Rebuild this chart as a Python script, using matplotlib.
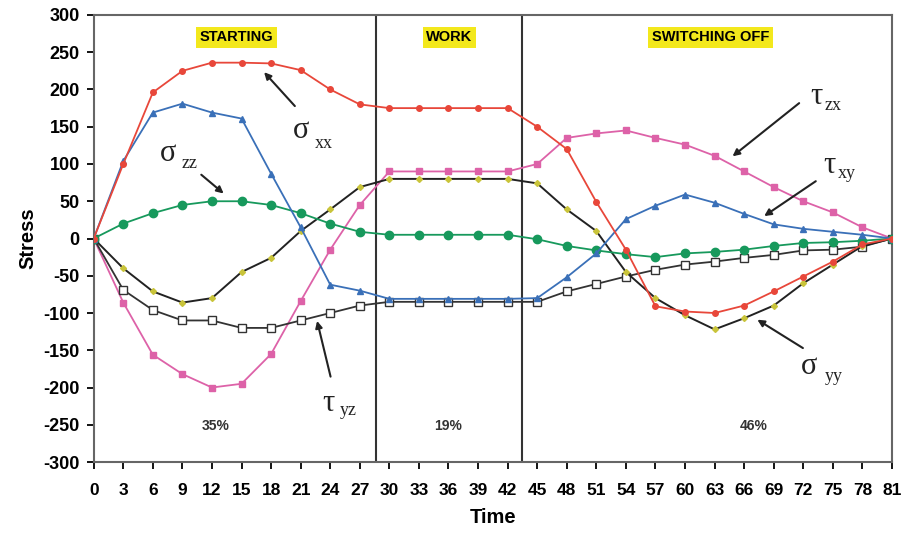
import numpy as np
import matplotlib
matplotlib.use('Agg')
import matplotlib.pyplot as plt

plt.rcParams['font.family'] = ['Liberation Sans', 'DejaVu Sans']
plt.rcParams['axes.unicode_minus'] = False

# ── data ──
time = list(range(0, 82, 3))

sigma_xx = [0, 100, 196, 225, 236, 236, 235, 226, 200, 180, 175, 175, 175, 175, 175,
            150, 120, 49, -15, -91, -98, -100, -90, -71, -51, -31, -8, 0]
tau_xy = [0, 104, 169, 181, 169, 161, 87, 15, -62, -70, -81, -81, -81, -81, -81,
          -80, -52, -20, 26, 44, 59, 48, 33, 19, 13, 9, 5, 0]
sigma_zz = [0, 20, 34, 45, 50, 50, 45, 34, 20, 9, 5, 5, 5, 5, 5,
            -1, -10, -16, -21, -25, -20, -18, -15, -10, -6, -5, -3, 0]
tau_zx = [0, -86, -156, -182, -200, -195, -155, -84, -15, 45, 90, 90, 90, 90, 90,
          100, 135, 141, 145, 135, 126, 111, 90, 69, 50, 35, 15, 0]
tau_yz = [0, -69, -96, -110, -110, -120, -120, -110, -100, -90, -85, -85, -85, -85, -85,
          -85, -71, -61, -51, -42, -35, -31, -26, -22, -16, -15, -11, 0]
sigma_yy = [0, -40, -71, -86, -80, -45, -26, 10, 39, 69, 80, 80, 80, 80, 80,
            74, 39, 10, -45, -80, -103, -122, -107, -90, -60, -35, -10, 0]

phase_bounds = [28.6, 43.5]
phase_names = ["STARTING", "WORK", "SWITCHING OFF"]
phase_name_x = [14.5, 36.1, 62.6]
phase_pcts = ["35%", "19%", "46%"]
phase_pct_x = [12.4, 36.0, 67.0]

# component labels: greek letter, subscript, letter pos, subscript pos, arrow tail, arrow head
comp_labels = [
    ("σ", "xx", (20.2, 135), (22.4, 121), (20.6, 175), (17.1, 226)),
    ("σ", "zz", (6.7, 104), (8.9, 94), (10.7, 88), (13.4, 58)),
    ("τ", "zx", (72.7, 180), (74.2, 173), (71.8, 184), (64.6, 108)),
    ("τ", "xy", (74.0, 88), (75.5, 81), (73.5, 79), (67.8, 28)),
    ("σ", "yy", (71.8, -182), (74.2, -191), (72.2, -149), (67.1, -107)),
    ("τ", "yz", (23.2, -232), (25.0, -237), (24.1, -189), (22.6, -107)),
]

# ── plot ──
fig = plt.figure(figsize=(9.01, 5.35), dpi=100)
ax = fig.add_axes([0.104, 0.1364, 0.886, 0.8356])

ax.plot(time, tau_zx, color='#dd62a8', lw=1.3, marker='s', ms=5, zorder=3)
ax.plot(time, tau_yz, color='#333333', lw=1.3, marker='s', ms=6, mfc='white', mec='#333333', zorder=3)
ax.plot(time, sigma_yy, color='#222222', lw=1.4, marker='D', ms=3, mfc='#c9c43a', mec='#c9c43a', zorder=3)
ax.plot(time, sigma_zz, color='#17995c', lw=1.3, marker='o', ms=6, zorder=4)
ax.plot(time, tau_xy, color='#3a70b8', lw=1.3, marker='^', ms=5, zorder=4)
ax.plot(time, sigma_xx, color='#e8473a', lw=1.3, marker='o', ms=4, zorder=5)

for xb in phase_bounds:
    ax.axvline(xb, color='#333333', lw=1.5, zorder=2)

for name, xn in zip(phase_names, phase_name_x):
    ax.text(xn, 270, name, ha='center', va='center', fontsize=10.5, fontweight='bold',
            bbox=dict(boxstyle='square,pad=0.25', fc='#f3e81c', ec='none'))
for pct, xp in zip(phase_pcts, phase_pct_x):
    ax.text(xp, -252, pct, ha='center', va='center', fontsize=10, fontweight='bold', color='#333333')

for g, sub, gpos, spos, tail, head in comp_labels:
    ax.text(gpos[0], gpos[1], g, fontsize=22, family='Liberation Serif',
            ha='left', va='baseline', color='#222222')
    ax.text(spos[0], spos[1], sub, fontsize=13, family='Liberation Serif',
            ha='left', va='baseline', color='#222222')
    ax.annotate('', xy=head, xytext=tail,
                arrowprops=dict(arrowstyle='-|>', color='#222222', lw=1.5, mutation_scale=10))

ax.set_xlim(0, 81)
ax.set_ylim(-300, 300)
ax.set_xticks(time)
ax.set_yticks(np.arange(-300, 301, 50))
ax.tick_params(axis='both', width=1.3, length=5, direction='out')
ax.tick_params(axis='x', labelsize=12.5, pad=10)
ax.tick_params(axis='y', labelsize=13, pad=5)
for lab in ax.get_xticklabels() + ax.get_yticklabels():
    lab.set_fontweight('bold')
for sp in ax.spines.values():
    sp.set_color('#666666')
    sp.set_linewidth(1.5)

ax.set_xlabel('Time', fontsize=14.5, fontweight='bold', labelpad=7)
ax.set_ylabel('Stress', fontsize=14.5, fontweight='bold', labelpad=4)

fig.savefig('out.png', dpi=100)
